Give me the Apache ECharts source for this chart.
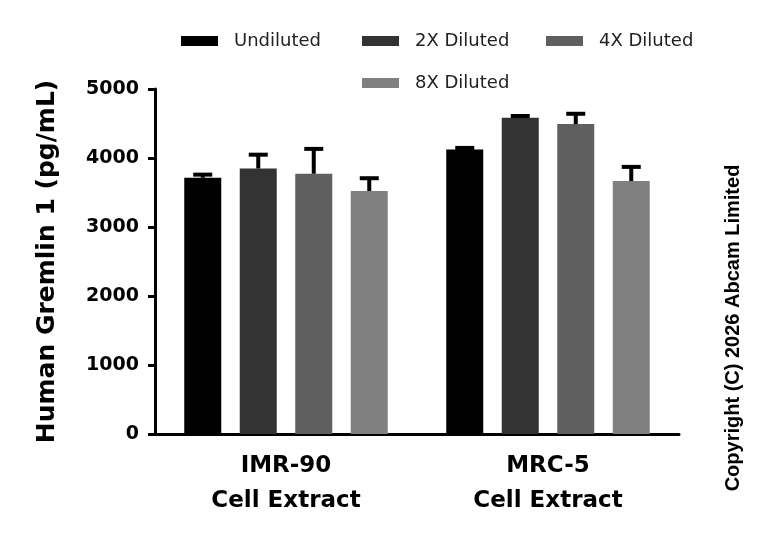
<!DOCTYPE html>
<html>
<head>
    <meta charset="utf-8">
    <title>Human Gremlin 1</title>
    <script src="https://cdn.jsdelivr.net/npm/echarts@6/dist/echarts.min.js"></script>
    <style>
        body, html {
            margin: 0;
            background: #fff;
        }

        #main {
            width: 768px;
            height: 535px;
        }
    </style>
</head>
<body>
<div id="main"></div>
<script type="text/javascript">
    var categories = ['IMR-90\nCell Extract', 'MRC-5\nCell Extract'];
    var dilutions = ['Undiluted', '2X Diluted', '4X Diluted', '8X Diluted'];
    var colors = ['#000000', '#333333', '#5f5f5f', '#808080'];

    // mean concentration (pg/mL) per dilution, one value per category
    var undiluted = [3714, 4124];
    var diluted2x = [3848, 4584];
    var diluted4x = [3772, 4491];
    var diluted8x = [3522, 3666];
    // upper error (SD)
    var undilutedErr = [45, 22];
    var diluted2xErr = [200, 25];
    var diluted4xErr = [360, 150];
    var diluted8xErr = [185, 205];

    var yTicks = [0, 1000, 2000, 3000, 4000, 5000];

    var means = [undiluted, diluted2x, diluted4x, diluted8x];
    var errs = [undilutedErr, diluted2xErr, diluted4xErr, diluted8xErr];

    var barWidth = 37;
    var barPitch = 55.5;
    var font = '"DejaVu Sans", sans-serif';

    // legend slot positions [left, top]
    var legendPos = [[176, 27], [357, 27], [541, 27], [357, 69]];

    var myChart = echarts.init(document.getElementById('main'));

    var series = [];
    dilutions.forEach(function (name, i) {
        series.push({
            name: name,
            type: 'bar',
            barWidth: barWidth,
            barGap: '50%',
            itemStyle: {color: colors[i]},
            data: means[i]
        });
    });
    dilutions.forEach(function (name, i) {
        var offset = (i - 1.5) * barPitch;
        series.push({
            type: 'custom',
            z: 5,
            silent: true,
            renderItem: function (params, api) {
                var base = api.coord([api.value(0), api.value(1)]);
                var top = api.coord([api.value(0), api.value(1) + api.value(2)]);
                var x = base[0] + offset;
                var style = {stroke: '#000', lineWidth: 4};
                return {
                    type: 'group',
                    children: [
                        {type: 'line', shape: {x1: x, y1: base[1], x2: x, y2: top[1]}, style: style},
                        {type: 'line', shape: {x1: x - 9.5, y1: top[1], x2: x + 9.5, y2: top[1]}, style: style}
                    ]
                };
            },
            data: means[i].map(function (v, k) {
                return [k, v, errs[i][k]];
            })
        });
    });

    var legends = dilutions.map(function (name, i) {
        return {
            data: [name],
            left: legendPos[i][0],
            top: legendPos[i][1],
            itemWidth: 37,
            itemHeight: 10,
            icon: 'rect',
            textStyle: {
                fontFamily: font,
                fontSize: 18,
                color: '#222',
                padding: [0, 0, 0, 11]
            }
        };
    });

    var option = {
        animation: false,
        backgroundColor: '#fff',
        color: colors,
        legend: legends,
        grid: {
            left: 155,
            right: 89,
            top: 89,
            bottom: 101
        },
        xAxis: {
            type: 'category',
            data: categories,
            axisLine: {lineStyle: {color: '#000', width: 3}},
            axisTick: {alignWithLabel: true, length: 8, lineStyle: {color: '#000', width: 3}},
            axisLabel: {
                color: '#000',
                fontFamily: font,
                fontWeight: 'bold',
                fontSize: 23,
                lineHeight: 35,
                margin: 15
            }
        },
        yAxis: {
            type: 'value',
            min: yTicks[0],
            max: yTicks[yTicks.length - 1],
            interval: 1000,
            name: 'Human Gremlin 1 (pg/mL)',
            nameLocation: 'middle',
            nameGap: 95,
            nameTextStyle: {
                color: '#000',
                fontFamily: font,
                fontWeight: 'bold',
                fontSize: 25
            },
            axisLine: {show: true, lineStyle: {color: '#000', width: 3}},
            axisTick: {show: true, length: 7, lineStyle: {color: '#000', width: 3}},
            splitLine: {show: false},
            axisLabel: {
                color: '#000',
                fontFamily: font,
                fontWeight: 'bold',
                fontSize: 19,
                margin: 16,
                formatter: function (v) {
                    return String(v);
                }
            }
        },
        graphic: [
            {
                type: 'text',
                x: 733,
                y: 328,
                rotation: Math.PI / 2,
                style: {
                    text: 'Copyright (C) 2026 Abcam Limited',
                    fontFamily: '"Liberation Sans", Arial, sans-serif',
                    fontWeight: 'bold',
                    fontSize: 20,
                    fill: '#000',
                    align: 'center',
                    verticalAlign: 'middle'
                }
            }
        ],
        series: series
    };

    myChart.setOption(option);
</script>
</body>
</html>
